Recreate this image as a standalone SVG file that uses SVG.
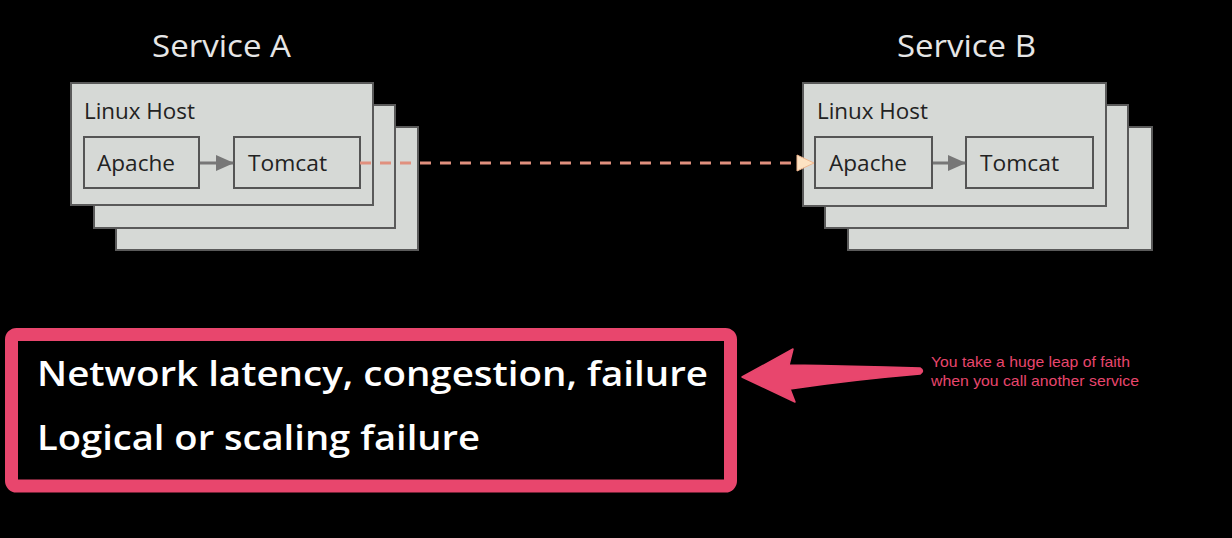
<svg xmlns="http://www.w3.org/2000/svg" width="1232" height="538" viewBox="0 0 1232 538">
<defs>
<style>
.bg{fill:#000}
.host{fill:#d6d9d6;stroke:#5a5a5a;stroke-width:2}
.comp{fill:#d6d9d6;stroke:#555;stroke-width:2}
.t{font-family:"Open Sans","Liberation Sans",sans-serif;fill:#222;font-size:22px}
.title{font-family:"Open Sans","Liberation Sans",sans-serif;fill:#e6e6e6;font-size:31px}
.big{font-family:"Open Sans","Liberation Sans",sans-serif;fill:#fff;font-size:35px;font-weight:600}
.note{font-family:"Liberation Sans",Arial,sans-serif;fill:#e8466d;font-size:15px}
.inner{stroke:#777;stroke-width:3;fill:none}
</style>
<marker id="ga" markerWidth="18" markerHeight="16" refX="17" refY="8" orient="auto" markerUnits="userSpaceOnUse" viewBox="0 0 18 16">
<path d="M0,0 L18,8 L0,16 Z" fill="#777"/>
</marker>
</defs>
<rect class="bg" x="0" y="0" width="1232" height="538"/>
<g id="serviceA">
<text class="title" x="152" y="57" textLength="139" lengthAdjust="spacingAndGlyphs">Service A</text>
<rect class="host" x="116" y="127" width="302" height="123"/>
<rect class="host" x="94" y="105" width="301" height="123"/>
<rect class="host" x="71" y="83" width="302" height="122"/>
<text class="t" x="84" y="119" textLength="111" lengthAdjust="spacingAndGlyphs">Linux Host</text>
<g id="apacheA"><rect class="comp" x="84" y="137" width="115" height="51"/><text class="t" x="97" y="171" textLength="78" lengthAdjust="spacingAndGlyphs">Apache</text></g>
<g id="tomcatA"><rect class="comp" x="234" y="137" width="126" height="51"/><text class="t" x="248" y="171" textLength="79" lengthAdjust="spacingAndGlyphs">Tomcat</text></g>
</g>
<g id="serviceB">
<text class="title" x="897" y="57" textLength="139" lengthAdjust="spacingAndGlyphs">Service B</text>
<rect class="host" x="848" y="127" width="304" height="123"/>
<rect class="host" x="825" y="105" width="303" height="123"/>
<rect class="host" x="803" y="83" width="303" height="123"/>
<text class="t" x="817" y="119" textLength="111" lengthAdjust="spacingAndGlyphs">Linux Host</text>
<g id="apacheB"><rect class="comp" x="815" y="137" width="117" height="51"/><text class="t" x="829" y="171" textLength="78" lengthAdjust="spacingAndGlyphs">Apache</text></g>
<g id="tomcatB"><rect class="comp" x="966" y="137" width="127" height="51"/><text class="t" x="980" y="171" textLength="79" lengthAdjust="spacingAndGlyphs">Tomcat</text></g>
</g>
<g id="connectors">
<line class="inner" x1="200" y1="163" x2="233" y2="163" marker-end="url(#ga)"/>
<line class="inner" x1="933" y1="163" x2="965" y2="163" marker-end="url(#ga)"/>
<line x1="360" y1="163" x2="798" y2="163" stroke="#e0907e" stroke-width="3" stroke-dasharray="11,9"/>
<path d="M797,155 L814,163 L797,171 Z" fill="#fde2c2" stroke="#f2b890" stroke-width="1"/>
</g>
<g id="callout">
<rect x="11.5" y="334.5" width="719" height="151.5" rx="5" fill="#000" stroke="#e8466d" stroke-width="13"/>
<text class="big" x="37" y="386" textLength="671" lengthAdjust="spacingAndGlyphs">Network latency, congestion, failure</text>
<text class="big" x="37" y="450" textLength="443" lengthAdjust="spacingAndGlyphs">Logical or scaling failure</text>
</g>
<g id="pinkArrow">
<path d="M742,377 L793,349 L789,365 Q850,366 920,368 Q925,371 920,374 Q850,380 790,389 L795,402 Z" fill="#e8466d" stroke="#e8466d" stroke-width="1.5" stroke-linejoin="round"/>
</g>
<g id="note">
<text class="note" x="931" y="367" textLength="199" lengthAdjust="spacingAndGlyphs">You take a huge leap of faith</text>
<text class="note" x="931" y="386" textLength="208" lengthAdjust="spacingAndGlyphs">when you call another service</text>
</g>
</svg>
